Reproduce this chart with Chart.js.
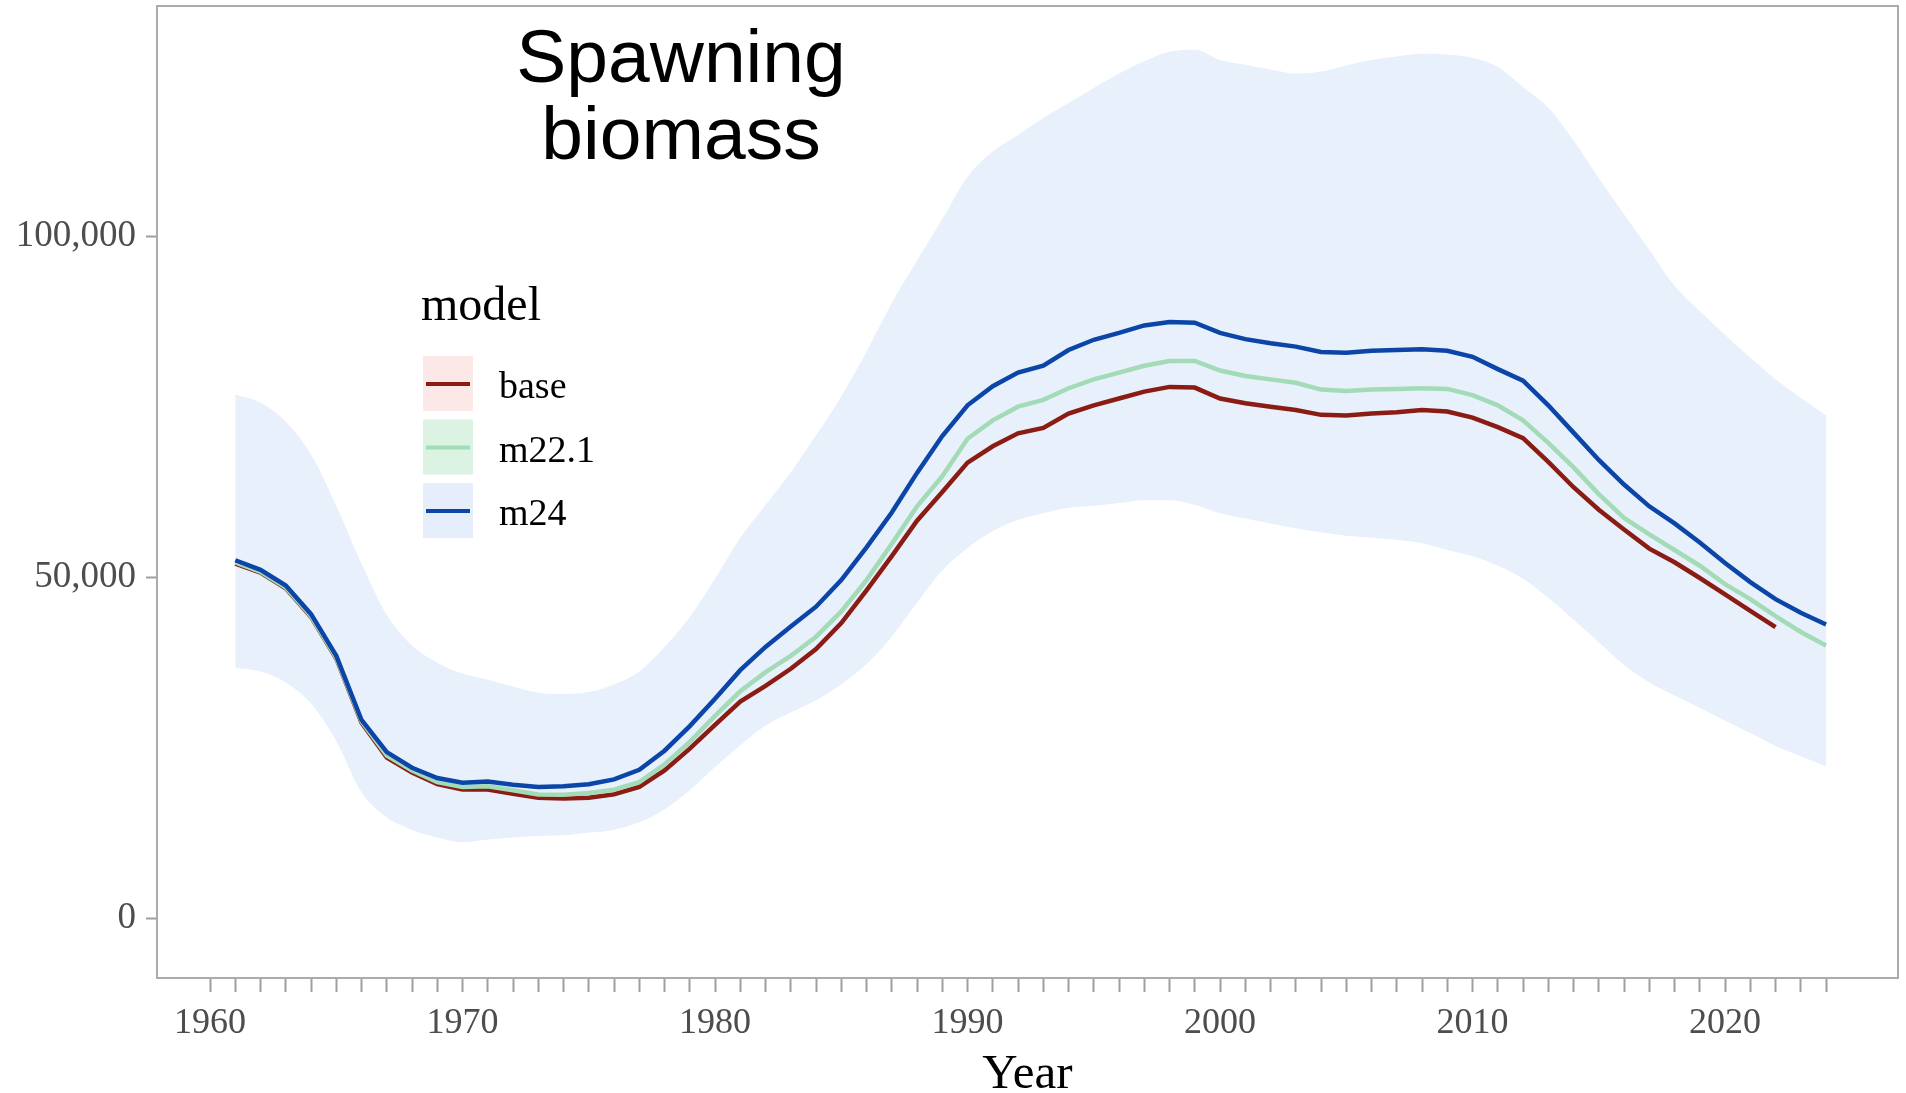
<!DOCTYPE html>
<html>
<head>
<meta charset="utf-8">
<title>Spawning biomass</title>
<script src="https://cdn.jsdelivr.net/npm/chart.js@4/dist/chart.umd.min.js"></script>
<style>
  html, body { margin: 0; padding: 0; background: #fff; }
  canvas { display: block; }
</style>
</head>
<body>
<canvas id="chart" width="1906" height="1093"></canvas>
<script>
const years = [1961, 1962, 1963, 1964, 1965, 1966, 1967, 1968, 1969, 1970,
  1971, 1972, 1973, 1974, 1975, 1976, 1977, 1978, 1979, 1980,
  1981, 1982, 1983, 1984, 1985, 1986, 1987, 1988, 1989, 1990,
  1991, 1992, 1993, 1994, 1995, 1996, 1997, 1998, 1999, 2000,
  2001, 2002, 2003, 2004, 2005, 2006, 2007, 2008, 2009, 2010,
  2011, 2012, 2013, 2014, 2015, 2016, 2017, 2018, 2019, 2020,
  2021, 2022, 2023, 2024];

// base stops at 2022
const base = [52000, 50700, 48400, 44200, 38100, 28700, 23600, 21400, 19700, 18900,
  18900, 18300, 17700, 17600, 17700, 18200, 19300, 21700, 24900, 28400,
  31800, 34100, 36600, 39500, 43300, 48100, 53100, 58300, 62500, 66800,
  69200, 71100, 71900, 74000, 75200, 76200, 77200, 77900, 77800, 76200,
  75500, 75000, 74500, 73800, 73700, 74000, 74200, 74500, 74300, 73400,
  72000, 70400, 66900, 63200, 59900, 57000, 54200, 52200, 49900, 47500,
  45100, 42700];

const m22_1 = [52200, 50800, 48500, 44300, 38200, 28900, 23900, 21700, 20000, 19300,
  19400, 18800, 18200, 18150, 18400, 18900, 20000, 22600, 25900, 29700,
  33300, 36100, 38500, 41300, 45000, 49600, 54900, 60400, 64800, 70300,
  73000, 75000, 76000, 77700, 79000, 80000, 81000, 81700, 81700, 80300,
  79500, 79000, 78500, 77500, 77300, 77500, 77600, 77700, 77600, 76700,
  75200, 73000, 69700, 66100, 62200, 58700, 56300, 54000, 51700, 49000,
  46800, 44300, 42000, 40000];

const m24 = [52500, 51100, 48800, 44600, 38500, 29100, 24400, 22100, 20600, 19900,
  20100, 19600, 19300, 19400, 19700, 20400, 21800, 24600, 28200, 32200,
  36400, 39800, 42800, 45700, 49600, 54400, 59500, 65300, 70700, 75200,
  78000, 80000, 81000, 83300, 84800, 85800, 86900, 87400, 87300, 85800,
  84900, 84300, 83800, 83000, 82900, 83200, 83300, 83400, 83200, 82300,
  80500, 78800, 75200, 71200, 67200, 63600, 60400, 57900, 55100, 52100,
  49300, 46800, 44800, 43100];

// m24 interval
const m24Upper = [76800, 75600, 72800, 68000, 60500, 52000, 44500, 40000, 37500, 35900,
  35000, 34000, 33100, 32900, 33200, 34300, 36200, 39800, 44200, 49800,
  55800, 60600, 65400, 70800, 76500, 83100, 90200, 96400, 102500, 108700,
  112400, 114800, 117300, 119500, 121700, 123800, 125600, 127000, 127300, 125800,
  125100, 124400, 123800, 124100, 125000, 125800, 126300, 126700, 126600, 126100,
  124800, 121800, 118800, 114000, 108500, 103200, 98000, 92700, 89000, 85500,
  82200, 79000, 76300, 73700];

const m24Lower = [36700, 36200, 34600, 31500, 26000, 18500, 14800, 13000, 11900, 11200,
  11600, 11900, 12100, 12200, 12600, 13000, 14100, 16000, 18800, 22200,
  25400, 28300, 30200, 32000, 34300, 37300, 41300, 46300, 51000, 54300,
  56800, 58400, 59400, 60200, 60500, 60900, 61300, 61300, 60600, 59400,
  58600, 57900, 57200, 56600, 56100, 55800, 55500, 55000, 54000, 53100,
  51700, 49800, 47000, 43800, 40500, 37200, 34600, 32700, 30900, 29000,
  27200, 25300, 23800, 22300];

const models = ['base', 'm22.1', 'm24'];
const lineColors = ['#8b1c14', '#a3dbb7', '#0b45a8'];
const keyFills = ['#fbe8e7', '#dcf2e3', '#e6eefb'];
const bandColor = '#e8f0fc';
const yTicks = [0, 50000, 100000];
const titleLines = ['Spawning', 'biomass'];

const pts = (vals) => vals.map((v, i) => ({ x: years[i], y: v }));

const frame = {
  id: 'frame',
  afterDraw(chart) {
    const { ctx, chartArea: a } = chart;
    ctx.save();
    ctx.strokeStyle = '#ababab';
    ctx.lineWidth = 2;
    ctx.strokeRect(a.left, a.top, a.right - a.left, a.bottom - a.top);
    ctx.restore();
  }
};

const titleText = {
  id: 'titleText',
  afterDraw(chart) {
    const { ctx, chartArea: a } = chart;
    ctx.save();
    ctx.fillStyle = '#000';
    ctx.font = '75px "Liberation Sans", Arial, sans-serif';
    ctx.textAlign = 'center';
    ctx.textBaseline = 'alphabetic';
    titleLines.forEach((t, i) => ctx.fillText(t, a.left + 524, 82 + i * 77));
    ctx.restore();
  }
};

const modelLegend = {
  id: 'modelLegend',
  afterDraw(chart) {
    const { ctx, chartArea: a } = chart;
    const x0 = a.left + 266;
    ctx.save();
    ctx.textBaseline = 'alphabetic';
    ctx.fillStyle = '#000';
    ctx.font = '48px "Liberation Serif", serif';
    ctx.fillText('model', x0 - 2, 320);
    models.forEach((name, i) => {
      const top = 356 + i * 63.5;
      ctx.fillStyle = keyFills[i];
      ctx.fillRect(x0, top, 50, 55);
      ctx.strokeStyle = lineColors[i];
      ctx.lineWidth = 4;
      ctx.beginPath();
      ctx.moveTo(x0 + 3, top + 28);
      ctx.lineTo(x0 + 47, top + 28);
      ctx.stroke();
      ctx.fillStyle = '#000';
      ctx.font = '38px "Liberation Serif", serif';
      ctx.fillText(name, x0 + 76, top + 42);
    });
    ctx.restore();
  }
};

const lineSet = (label, vals, i) => ({
  label,
  data: pts(vals),
  borderColor: lineColors[i],
  backgroundColor: lineColors[i],
  borderWidth: 4.5,
  pointRadius: 0,
  tension: 0,
  fill: false,
  order: 2 - i
});

const tickFont = { family: '"Liberation Serif", serif', size: 36 };

new Chart(document.getElementById('chart'), {
  type: 'line',
  data: {
    datasets: [
      lineSet(models[0], base, 0),
      lineSet(models[1], m22_1, 1),
      lineSet(models[2], m24, 2),
      {
        label: 'm24 lower',
        data: pts(m24Lower),
        borderWidth: 0,
        pointRadius: 0,
        cubicInterpolationMode: 'monotone',
        fill: false,
        order: 6
      },
      {
        label: 'm24 upper',
        data: pts(m24Upper),
        borderWidth: 0,
        pointRadius: 0,
        cubicInterpolationMode: 'monotone',
        backgroundColor: bandColor,
        fill: { target: 3 },
        order: 5
      }
    ]
  },
  options: {
    responsive: false,
    animation: false,
    layout: { padding: { top: 6, right: 8, left: 0, bottom: 0 } },
    plugins: {
      legend: { display: false },
      tooltip: { enabled: false },
      title: { display: false }
    },
    scales: {
      x: {
        type: 'linear',
        min: 1957.9,
        max: 2026.85,
        afterFit: (s) => { s.height = 115; s.paddingLeft = 0; s.paddingRight = 0; },
        afterBuildTicks: (s) => { s.ticks = s.ticks.filter(t => t.value >= 1960 && t.value <= 2024); },
        ticks: {
          stepSize: 1,
          autoSkip: false,
          maxRotation: 0,
          includeBounds: false,
          padding: 10,
          color: '#4d4d4d',
          font: tickFont,
          callback: (v) => (v % 10 === 0 ? String(v) : '')
        },
        grid: { drawOnChartArea: false, drawTicks: true, tickLength: 14, tickWidth: 2, tickColor: '#9e9e9e' },
        border: { display: false },
        title: {
          display: true,
          text: 'Year',
          color: '#000',
          font: { family: '"Liberation Serif", serif', size: 49, lineHeight: 0.72 },
          padding: 0
        }
      },
      y: {
        type: 'linear',
        min: -8700,
        max: 133700,
        afterFit: (s) => { s.width = 157; s.paddingTop = 0; s.paddingBottom = 0; },
        afterBuildTicks: (s) => { s.ticks = yTicks.map(v => ({ value: v })); },
        ticks: {
          padding: 10,
          color: '#4d4d4d',
          font: { family: '"Liberation Serif", serif', size: 37 },
          callback: (v) => v.toLocaleString('en-US')
        },
        grid: { drawOnChartArea: false, drawTicks: true, tickLength: 11, tickWidth: 2, tickColor: '#9e9e9e' },
        border: { display: false }
      }
    }
  },
  plugins: [frame, titleText, modelLegend]
});
</script>
</body>
</html>
